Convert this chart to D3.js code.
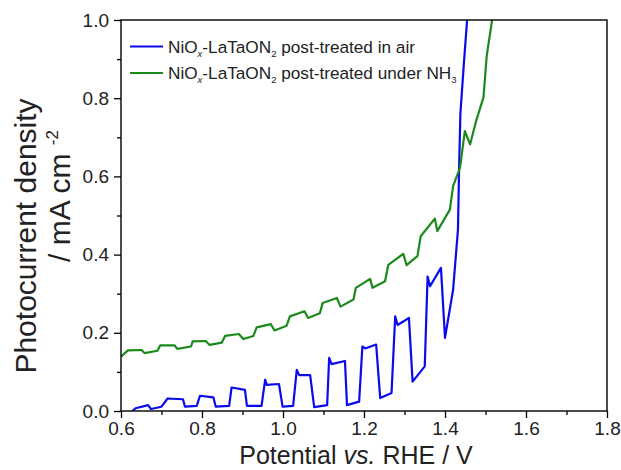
<!DOCTYPE html>
<html>
<head>
<meta charset="utf-8">
<script src="https://cdn.jsdelivr.net/npm/d3@7"></script>
<style>
  body { margin: 0; background: #fff; }
  svg { font-family: "Liberation Sans", Arial, sans-serif; }
</style>
</head>
<body>
<div id="chart"></div>
<script>
// potential (V vs RHE) and photocurrent (mA cm-2)
var airV = [0.628, 0.636, 0.667, 0.674, 0.700, 0.715, 0.753, 0.758, 0.787, 0.795,
            0.828, 0.834, 0.867, 0.873, 0.906, 0.911, 0.947, 0.956, 0.960, 0.990,
            0.999, 1.025, 1.034, 1.040, 1.067, 1.077, 1.109, 1.114, 1.120, 1.153,
            1.158, 1.188, 1.196, 1.203, 1.230, 1.240, 1.268, 1.277, 1.283, 1.311,
            1.320, 1.350, 1.357, 1.363, 1.390, 1.400, 1.420, 1.432, 1.435, 1.438,
            1.446, 1.456];
var airJ = [0.000, 0.007, 0.015, 0.005, 0.011, 0.032, 0.030, 0.011, 0.013, 0.039,
            0.035, 0.011, 0.013, 0.060, 0.054, 0.013, 0.013, 0.080, 0.067, 0.069,
            0.011, 0.013, 0.105, 0.092, 0.092, 0.010, 0.015, 0.136, 0.120, 0.128,
            0.015, 0.024, 0.165, 0.160, 0.170, 0.033, 0.046, 0.242, 0.220, 0.238,
            0.075, 0.114, 0.344, 0.319, 0.366, 0.187, 0.310, 0.464, 0.630, 0.760,
            0.880, 1.020];

var nh3V = [0.600, 0.617, 0.651, 0.658, 0.690, 0.697, 0.732, 0.739, 0.773, 0.777,
            0.809, 0.819, 0.849, 0.857, 0.891, 0.902, 0.927, 0.935, 0.970, 0.979,
            1.009, 1.017, 1.053, 1.062, 1.091, 1.098, 1.133, 1.142, 1.174, 1.180,
            1.215, 1.221, 1.252, 1.260, 1.297, 1.305, 1.332, 1.340, 1.375, 1.381,
            1.412, 1.420, 1.437, 1.449, 1.462, 1.478, 1.495, 1.503, 1.517];
var nh3J = [0.139, 0.155, 0.156, 0.148, 0.154, 0.168, 0.168, 0.159, 0.165, 0.178,
            0.179, 0.169, 0.175, 0.192, 0.197, 0.184, 0.192, 0.214, 0.222, 0.206,
            0.218, 0.242, 0.255, 0.238, 0.250, 0.276, 0.289, 0.267, 0.285, 0.315,
            0.338, 0.315, 0.332, 0.374, 0.402, 0.373, 0.396, 0.447, 0.492, 0.460,
            0.515, 0.575, 0.622, 0.716, 0.682, 0.746, 0.802, 0.908, 1.005];

var xTicks = [0.6, 0.8, 1.0, 1.2, 1.4, 1.6, 1.8];
var xMinor = [0.7, 0.9, 1.1, 1.3, 1.5, 1.7];
var yTicks = [0.0, 0.2, 0.4, 0.6, 0.8, 1.0];
var yMinor = [0.1, 0.3, 0.5, 0.7, 0.9];

var seriesNames = ["air", "nh3"];
var seriesColors = ["#0a0af0", "#1b8a1b"];

var width = 621, height = 470;
var margin = {top: 20, right: 14, bottom: 59, left: 121};

var svg = d3.select("#chart").append("svg")
    .attr("width", width)
    .attr("height", height);

var x = d3.scaleLinear().domain([0.6, 1.8]).range([margin.left, width - margin.right]);
var y = d3.scaleLinear().domain([0, 1]).range([height - margin.bottom, margin.top]);

svg.append("clipPath").attr("id", "plotClip")
  .append("rect")
    .attr("x", margin.left).attr("y", margin.top)
    .attr("width", x.range()[1] - margin.left)
    .attr("height", y.range()[0] - margin.top);

// curves
var line = d3.line()
    .x(function(d) { return x(d[0]); })
    .y(function(d) { return y(d[1]); });

var curves = [d3.zip(airV, airJ), d3.zip(nh3V, nh3J)];
svg.append("g").attr("clip-path", "url(#plotClip)")
  .selectAll("path").data(curves).enter().append("path")
    .attr("d", line)
    .attr("fill", "none")
    .attr("stroke", function(d, i) { return seriesColors[i]; })
    .attr("stroke-width", 2.2)
    .attr("stroke-linejoin", "round");

// axes
svg.append("g")
    .attr("transform", "translate(0," + y(0) + ")")
    .call(d3.axisBottom(x).tickValues(xTicks).tickSize(7).tickPadding(4)
        .tickFormat(d3.format(".1f")));
svg.append("g")
    .attr("transform", "translate(0," + y(0) + ")")
    .call(d3.axisBottom(x).tickValues(xMinor).tickSize(4).tickFormat(""));

svg.append("g")
    .attr("transform", "translate(" + x(0.6) + ",0)")
    .call(d3.axisLeft(y).tickValues(yTicks).tickSize(7).tickPadding(5)
        .tickFormat(d3.format(".1f")));
svg.append("g")
    .attr("transform", "translate(" + x(0.6) + ",0)")
    .call(d3.axisLeft(y).tickValues(yMinor).tickSize(4).tickFormat(""));

svg.selectAll(".domain").remove();
svg.selectAll(".tick line").attr("stroke", "#000").attr("stroke-width", 1.3);
svg.selectAll(".tick text")
    .attr("fill", "#222")
    .style("font-size", "19px")
    .style("font-family", "'Liberation Sans', Arial, sans-serif");

// frame
svg.append("rect")
    .attr("x", x(0.6)).attr("y", y(1))
    .attr("width", x(1.8) - x(0.6))
    .attr("height", y(0) - y(1))
    .attr("fill", "none")
    .attr("stroke", "#000")
    .attr("stroke-width", 1.4);

// axis titles
var xt = svg.append("text")
    .attr("x", 356).attr("y", 464)
    .attr("text-anchor", "middle")
    .attr("fill", "#222")
    .style("font-size", "25px");
xt.append("tspan").text("Potential ");
xt.append("tspan").style("font-style", "italic").text("vs.");
xt.append("tspan").text(" RHE / V");

svg.append("text")
    .attr("transform", "translate(36,236) rotate(-90)")
    .attr("text-anchor", "middle")
    .attr("fill", "#222")
    .style("font-size", "30px")
    .text("Photocurrent density");

var yt2 = svg.append("text")
    .attr("transform", "translate(70,196) rotate(-90)")
    .attr("text-anchor", "middle")
    .attr("fill", "#222")
    .style("font-size", "30px");
yt2.append("tspan").text("/ mA cm ");
yt2.append("tspan").attr("dy", -12).style("font-size", "17px").text("-2");

// legend
var legendRows = [46.5, 73];
var lg = svg.selectAll(".legend").data(seriesNames).enter().append("g")
    .attr("class", "legend")
    .attr("transform", function(d, i) { return "translate(130," + legendRows[i] + ")"; });

lg.append("line")
    .attr("x1", 0).attr("x2", 33)
    .attr("stroke", function(d, i) { return seriesColors[i]; })
    .attr("stroke-width", 2.2);

var lt = lg.append("text")
    .attr("x", 38).attr("y", 6)
    .attr("fill", "#222")
    .style("font-size", "17.2px");
lt.append("tspan").text("NiO");
lt.append("tspan").attr("dy", 4).style("font-size", "9.5px").style("font-style", "italic").text("x");
lt.append("tspan").attr("dy", -4).text("-LaTaON");
lt.append("tspan").attr("dy", 4).style("font-size", "9.5px").text("2");
lt.append("tspan").attr("dy", -4).text(function(d) {
    return d == "air" ? " post-treated in air" : " post-treated under NH";
});
lt.filter(function(d) { return d == "nh3"; })
  .append("tspan").attr("dy", 4).style("font-size", "9.5px").text("3");
</script>
</body>
</html>
